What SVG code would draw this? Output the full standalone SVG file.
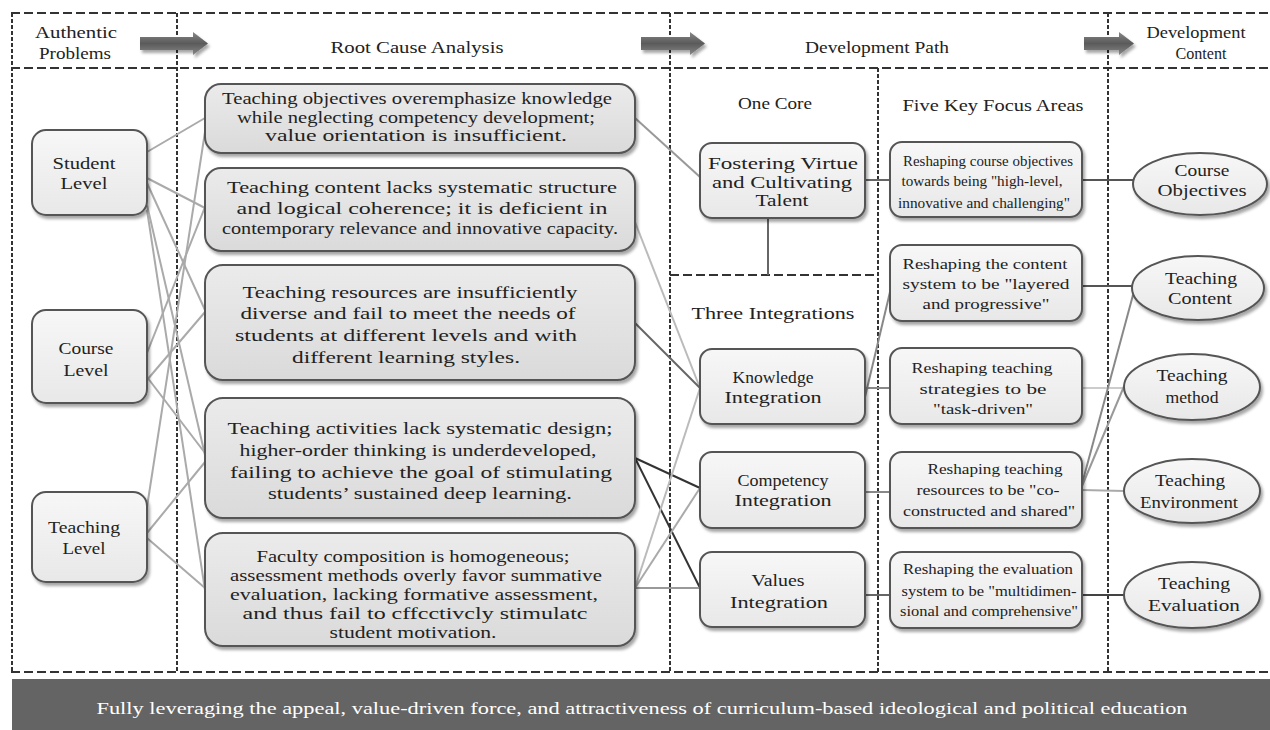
<svg xmlns="http://www.w3.org/2000/svg" width="1270" height="730" viewBox="0 0 1270 730">
<defs>
<filter id="sh" x="-10%" y="-10%" width="125%" height="130%"><feDropShadow dx="2" dy="3" stdDeviation="1.5" flood-color="#000" flood-opacity="0.35"/></filter>
<linearGradient id="gL" x1="0" y1="0" x2="0" y2="1"><stop offset="0" stop-color="#f7f7f7"/><stop offset="1" stop-color="#e8e8e8"/></linearGradient>
<linearGradient id="gR" x1="0" y1="0" x2="0" y2="1"><stop offset="0" stop-color="#ebebeb"/><stop offset="1" stop-color="#dadada"/></linearGradient>
<linearGradient id="gA" x1="0" y1="0" x2="0" y2="1"><stop offset="0" stop-color="#888"/><stop offset="0.5" stop-color="#5a5a5a"/><stop offset="1" stop-color="#888"/></linearGradient>
<style>
.t{font-family:"Liberation Serif","DejaVu Serif",serif;font-size:17px;fill:#222;text-anchor:middle}
.s{font-size:15.5px}
.w{fill:#fff;font-size:17px}
.nd{fill:url(#gL);stroke:#555;stroke-width:2;filter:url(#sh)}
.rc{fill:url(#gR);stroke:#555;stroke-width:2;filter:url(#sh)}
.dh{fill:none;stroke:#333;stroke-width:2;stroke-dasharray:9 4}
.dv{fill:none;stroke:#333;stroke-width:2;stroke-dasharray:4 2}
.c{fill:none;stroke-width:2}
.arr{fill:url(#gA);filter:url(#sh)}
</style>
</defs>
<rect width="1270" height="730" fill="#fff"/>

<g id="frame">
<path class="dh" d="M11 13H1270M11 68H1270M11 672H1270"/>
<path class="dv" d="M12 13V672M177 13V672M670 13V672M1108 13V672M878 68V672"/>
<path class="dh" d="M670 275H878"/>
</g>

<g id="headers">
<text class="t" x="76" y="38" textLength="82" lengthAdjust="spacingAndGlyphs">Authentic</text>
<text class="t" x="75" y="59" textLength="72" lengthAdjust="spacingAndGlyphs">Problems</text>
<text class="t" x="417" y="53" textLength="173" lengthAdjust="spacingAndGlyphs">Root Cause Analysis</text>
<text class="t" x="877" y="53" textLength="144" lengthAdjust="spacingAndGlyphs">Development Path</text>
<text class="t" x="1196" y="38" textLength="99" lengthAdjust="spacingAndGlyphs">Development</text>
<text class="t" x="1201" y="59" textLength="51" lengthAdjust="spacingAndGlyphs">Content</text>
<text class="t" x="775" y="109" textLength="74" lengthAdjust="spacingAndGlyphs">One Core</text>
<text class="t" x="773" y="319" textLength="163" lengthAdjust="spacingAndGlyphs">Three Integrations</text>
<text class="t" x="993" y="111" textLength="181" lengthAdjust="spacingAndGlyphs">Five Key Focus Areas</text>
</g>

<g id="arrows">
<polygon class="arr" points="140,37 193,37 193,32 208,43.5 193,55 193,50 140,50"/>
<polygon class="arr" points="641,37 690,37 690,32 705,43.5 690,55 690,50 641,50"/>
<polygon class="arr" points="1084,37 1119,37 1119,32 1134,43.5 1119,55 1119,50 1084,50"/>
</g>

<g id="connectors">
<g stroke="#aaa" class="c" fill="none">
<line x1="147" y1="152" x2="205" y2="118"/>
<line x1="147" y1="178" x2="205" y2="208"/>
<line x1="147" y1="183" x2="205" y2="310"/>
<line x1="147" y1="205" x2="205" y2="455"/>
<line x1="147" y1="210" x2="205" y2="590"/>
<line x1="147" y1="353" x2="205" y2="207"/>
<line x1="147" y1="380" x2="205" y2="312"/>
<line x1="147" y1="377" x2="205" y2="453"/>
<line x1="147" y1="507" x2="205" y2="132"/>
<line x1="147" y1="533" x2="205" y2="462"/>
<line x1="147" y1="538" x2="205" y2="588"/>
</g>
<line class="c" stroke="#999" x1="635" y1="118" x2="700" y2="177"/>
<line class="c" stroke="#bbb" x1="635" y1="222" x2="700" y2="388"/>
<line class="c" stroke="#666" x1="635" y1="323" x2="700" y2="388"/>
<line class="c" stroke="#333" x1="635" y1="458" x2="700" y2="488"/>
<line class="c" stroke="#333" x1="635" y1="458" x2="700" y2="588"/>
<line class="c" stroke="#bbb" stroke-width="1.5" x1="635" y1="588" x2="700" y2="388"/>
<line class="c" stroke="#aaa" stroke-width="1.5" x1="635" y1="588" x2="700" y2="488"/>
<line class="c" stroke="#999" stroke-width="1.5" x1="635" y1="588" x2="700" y2="588"/>
<line class="c" stroke="#666" x1="768" y1="218" x2="768" y2="275"/>
<line class="c" stroke="#666" x1="865" y1="180" x2="890" y2="180"/>
<line class="c" stroke="#888" x1="865" y1="397" x2="890" y2="292"/>
<line class="c" stroke="#888" x1="865" y1="388" x2="890" y2="388"/>
<line class="c" stroke="#888" x1="865" y1="492" x2="890" y2="492"/>
<line class="c" stroke="#666" x1="865" y1="595" x2="890" y2="595"/>
<line class="c" stroke="#555" x1="1082" y1="180" x2="1134" y2="180"/>
<line class="c" stroke="#555" x1="1082" y1="286" x2="1132" y2="286"/>
<line class="c" stroke="#ccc" x1="1082" y1="388" x2="1124" y2="388"/>
<line class="c" stroke="#888" x1="1082" y1="484" x2="1133" y2="295"/>
<line class="c" stroke="#999" x1="1082" y1="486" x2="1125" y2="384"/>
<line class="c" stroke="#aaa" x1="1082" y1="490" x2="1124" y2="491"/>
<line class="c" stroke="#444" x1="1082" y1="595" x2="1124" y2="595"/>
</g>

<g id="student-level"><rect class="nd" x="32" y="130" width="115" height="85" rx="14"/>
<text class="t" x="84" y="169" textLength="63" lengthAdjust="spacingAndGlyphs">Student</text>
<text class="t" x="84" y="189" textLength="47" lengthAdjust="spacingAndGlyphs">Level</text></g>
<g id="course-level"><rect class="nd" x="32" y="310" width="115" height="93" rx="14"/>
<text class="t" x="86" y="354" textLength="55" lengthAdjust="spacingAndGlyphs">Course</text>
<text class="t" x="86" y="376" textLength="45" lengthAdjust="spacingAndGlyphs">Level</text></g>
<g id="teaching-level"><rect class="nd" x="32" y="492" width="115" height="90" rx="14"/>
<text class="t" x="84" y="533" textLength="72" lengthAdjust="spacingAndGlyphs">Teaching</text>
<text class="t" x="84" y="554" textLength="43" lengthAdjust="spacingAndGlyphs">Level</text></g>

<g id="cause-1"><rect class="rc" x="205" y="84" width="430" height="69" rx="16"/>
<text class="t" x="417" y="104" textLength="390" lengthAdjust="spacingAndGlyphs">Teaching objectives overemphasize knowledge</text>
<text class="t" x="416" y="123" textLength="358" lengthAdjust="spacingAndGlyphs">while neglecting competency development;</text>
<text class="t" x="416" y="141" textLength="302" lengthAdjust="spacingAndGlyphs">value orientation is insufficient.</text></g>
<g id="cause-2"><rect class="rc" x="205" y="168" width="430" height="83" rx="16"/>
<text class="t" x="422" y="193" textLength="390" lengthAdjust="spacingAndGlyphs">Teaching content lacks systematic structure</text>
<text class="t" x="422" y="214" textLength="371" lengthAdjust="spacingAndGlyphs">and logical coherence; it is deficient in</text>
<text class="t" x="420" y="234" textLength="396" lengthAdjust="spacingAndGlyphs">contemporary relevance and innovative capacity.</text></g>
<g id="cause-3"><rect class="rc" x="205" y="265" width="430" height="115" rx="18"/>
<text class="t" x="410" y="298" textLength="335" lengthAdjust="spacingAndGlyphs">Teaching resources are insufficiently</text>
<text class="t" x="408" y="319" textLength="335" lengthAdjust="spacingAndGlyphs">diverse and fail to meet the needs of</text>
<text class="t" x="406" y="341" textLength="342" lengthAdjust="spacingAndGlyphs">students at different levels and with</text>
<text class="t" x="406" y="363" textLength="228" lengthAdjust="spacingAndGlyphs">different learning styles.</text></g>
<g id="cause-4"><rect class="rc" x="205" y="398" width="430" height="120" rx="18"/>
<text class="t" x="420" y="434" textLength="385" lengthAdjust="spacingAndGlyphs">Teaching activities lack systematic design;</text>
<text class="t" x="418" y="456" textLength="357" lengthAdjust="spacingAndGlyphs">higher-order thinking is underdeveloped,</text>
<text class="t" x="421" y="478" textLength="382" lengthAdjust="spacingAndGlyphs">failing to achieve the goal of stimulating</text>
<text class="t" x="420" y="499" textLength="304" lengthAdjust="spacingAndGlyphs">students’ sustained deep learning.</text></g>
<g id="cause-5"><rect class="rc" x="205" y="533" width="430" height="113" rx="18"/>
<text class="t" x="413" y="562" textLength="313" lengthAdjust="spacingAndGlyphs">Faculty composition is homogeneous;</text>
<text class="t" x="416" y="581" textLength="372" lengthAdjust="spacingAndGlyphs">assessment methods overly favor summative</text>
<text class="t" x="414" y="600" textLength="368" lengthAdjust="spacingAndGlyphs">evaluation, lacking formative assessment,</text>
<text class="t" x="415" y="619" textLength="345" lengthAdjust="spacingAndGlyphs">and thus fail to cffcctivcly stimulatc</text>
<text class="t" x="413" y="638" textLength="167" lengthAdjust="spacingAndGlyphs">student motivation.</text></g>

<g id="core"><rect class="nd" x="700" y="143" width="165" height="75" rx="12"/>
<text class="t" x="783" y="169" textLength="150" lengthAdjust="spacingAndGlyphs">Fostering Virtue</text>
<text class="t" x="782" y="188" textLength="140" lengthAdjust="spacingAndGlyphs">and Cultivating</text>
<text class="t" x="782" y="206" textLength="53" lengthAdjust="spacingAndGlyphs">Talent</text></g>
<g id="knowledge"><rect class="nd" x="700" y="349" width="165" height="75" rx="12"/>
<text class="t" x="773" y="383" textLength="81" lengthAdjust="spacingAndGlyphs">Knowledge</text>
<text class="t" x="773" y="403" textLength="97" lengthAdjust="spacingAndGlyphs">Integration</text></g>
<g id="competency"><rect class="nd" x="700" y="452" width="165" height="76" rx="12"/>
<text class="t" x="783" y="486" textLength="91" lengthAdjust="spacingAndGlyphs">Competency</text>
<text class="t" x="783" y="506" textLength="97" lengthAdjust="spacingAndGlyphs">Integration</text></g>
<g id="values"><rect class="nd" x="700" y="552" width="165" height="75" rx="12"/>
<text class="t" x="778" y="586" textLength="53" lengthAdjust="spacingAndGlyphs">Values</text>
<text class="t" x="779" y="608" textLength="98" lengthAdjust="spacingAndGlyphs">Integration</text></g>

<g id="focus-1"><rect class="nd" x="890" y="142" width="192" height="75" rx="12"/>
<text class="t s" x="988" y="166" textLength="170" lengthAdjust="spacingAndGlyphs">Reshaping course objectives</text>
<text class="t s" x="982" y="186" textLength="161" lengthAdjust="spacingAndGlyphs">towards being "high-level,</text>
<text class="t s" x="984" y="208" textLength="172" lengthAdjust="spacingAndGlyphs">innovative and challenging"</text></g>
<g id="focus-2"><rect class="nd" x="890" y="245" width="192" height="76" rx="12"/>
<text class="t s" x="985" y="269" textLength="165" lengthAdjust="spacingAndGlyphs">Reshaping the content</text>
<text class="t s" x="986" y="289" textLength="167" lengthAdjust="spacingAndGlyphs">system to be "layered</text>
<text class="t s" x="986" y="309" textLength="127" lengthAdjust="spacingAndGlyphs">and progressive"</text></g>
<g id="focus-3"><rect class="nd" x="890" y="348" width="192" height="76" rx="12"/>
<text class="t s" x="982" y="373" textLength="141" lengthAdjust="spacingAndGlyphs">Reshaping teaching</text>
<text class="t s" x="983" y="394" textLength="127" lengthAdjust="spacingAndGlyphs">strategies to be</text>
<text class="t s" x="983" y="414" textLength="100" lengthAdjust="spacingAndGlyphs">"task-driven"</text></g>
<g id="focus-4"><rect class="nd" x="890" y="452" width="192" height="76" rx="12"/>
<text class="t s" x="995" y="474" textLength="135" lengthAdjust="spacingAndGlyphs">Reshaping teaching</text>
<text class="t s" x="988" y="495" textLength="143" lengthAdjust="spacingAndGlyphs">resources to be "co-</text>
<text class="t s" x="989" y="516" textLength="172" lengthAdjust="spacingAndGlyphs">constructed and shared"</text></g>
<g id="focus-5"><rect class="nd" x="890" y="552" width="192" height="76" rx="12"/>
<text class="t s" x="988" y="574" textLength="170" lengthAdjust="spacingAndGlyphs">Reshaping the evaluation</text>
<text class="t s" x="989" y="596" textLength="175" lengthAdjust="spacingAndGlyphs">system to be "multidimen-</text>
<text class="t s" x="989" y="616" textLength="178" lengthAdjust="spacingAndGlyphs">sional and comprehensive"</text></g>

<g id="course-objectives"><ellipse class="nd" cx="1200" cy="184" rx="67" ry="31"/>
<text class="t" x="1202" y="176" textLength="55" lengthAdjust="spacingAndGlyphs">Course</text>
<text class="t" x="1202" y="196" textLength="89" lengthAdjust="spacingAndGlyphs">Objectives</text></g>
<g id="teaching-content"><ellipse class="nd" cx="1198" cy="288" rx="66" ry="32"/>
<text class="t" x="1201" y="284" textLength="72" lengthAdjust="spacingAndGlyphs">Teaching</text>
<text class="t" x="1200" y="304" textLength="64" lengthAdjust="spacingAndGlyphs">Content</text></g>
<g id="teaching-method"><ellipse class="nd" cx="1192" cy="387" rx="68" ry="33"/>
<text class="t" x="1192" y="381" textLength="71" lengthAdjust="spacingAndGlyphs">Teaching</text>
<text class="t" x="1192" y="403" textLength="53" lengthAdjust="spacingAndGlyphs">method</text></g>
<g id="teaching-environment"><ellipse class="nd" cx="1192" cy="491" rx="68" ry="32"/>
<text class="t" x="1190" y="486" textLength="70" lengthAdjust="spacingAndGlyphs">Teaching</text>
<text class="t" x="1189" y="508" textLength="98" lengthAdjust="spacingAndGlyphs">Environment</text></g>
<g id="teaching-evaluation"><ellipse class="nd" cx="1192" cy="595" rx="68" ry="33"/>
<text class="t" x="1194" y="589" textLength="72" lengthAdjust="spacingAndGlyphs">Teaching</text>
<text class="t" x="1194" y="611" textLength="92" lengthAdjust="spacingAndGlyphs">Evaluation</text></g>

<g id="banner"><rect x="12" y="679" width="1258" height="51" fill="#646464"/>
<text class="t w" x="642" y="714" textLength="1091" lengthAdjust="spacingAndGlyphs">Fully leveraging the appeal, value-driven force, and attractiveness of curriculum-based ideological and political education</text></g>
</svg>
